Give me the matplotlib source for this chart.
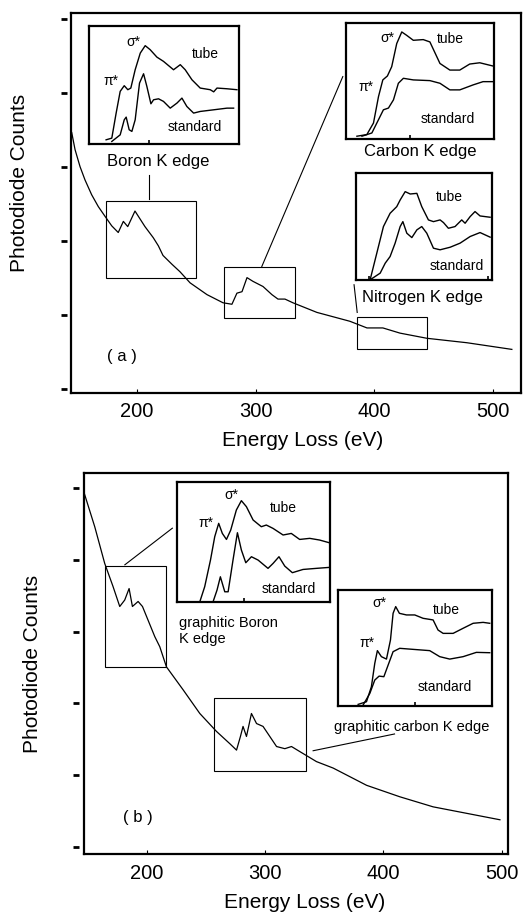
import numpy as np
import matplotlib.pyplot as plt
from matplotlib.patches import Rectangle

plt.rcParams['font.family'] = ['Liberation Sans', 'DejaVu Sans']

# ---------------- panel (a): full loss spectrum ----------------
a_energy = [145.0, 147.8, 152.0, 156.2, 161.8, 167.4, 173.0, 178.7, 184.2, 188.5,
            192.2, 198.3, 206.7, 213.7, 218.0,
            221.9, 229.5, 236.2, 244.7, 259.0, 272.5, 280.0, 284.2, 288.5, 292.7,
            297.7, 306.2, 313.7, 318.8, 324.7, 331.4, 351.6, 379.4, 393.8, 407.2,
            421.6, 444.3, 478.0, 515.9]
a_counts = [3.46, 3.23, 3.00, 2.82, 2.62, 2.46, 2.33, 2.20, 2.11, 2.26,
            2.19, 2.40, 2.19, 2.04, 1.93,
            1.80, 1.68, 1.58, 1.43, 1.27, 1.16, 1.14, 1.29, 1.31, 1.50,
            1.45, 1.38, 1.27, 1.21, 1.21, 1.16, 1.03, 0.91, 0.82, 0.82,
            0.75, 0.68, 0.62, 0.53]
# boxes around the edges: (E start, E end, counts low, counts high)
a_boxes = [(173.9, 249.7, 1.50, 2.53),
           (273.3, 333.1, 0.95, 1.64),
           (385.3, 444.3, 0.54, 0.97)]

# ---------------- panel (b): full loss spectrum ----------------
b_energy = [147.0, 156.3, 164.7, 171.7, 177.4, 181.6, 185.3, 188.1, 192.9, 196.6,
            201.3, 207.0, 211.2, 216.8, 230.9, 245.0, 259.1, 270.3, 276.0, 279.3,
            281.5, 284.4, 288.6, 292.9, 298.4, 304.1, 309.8, 316.8, 322.4, 329.4,
            343.5, 357.6, 385.8, 413.9, 442.0, 470.2, 498.4]
b_counts = [4.95, 4.46, 3.95, 3.63, 3.35, 3.44, 3.60, 3.35, 3.42, 3.35,
            3.16, 2.93, 2.79, 2.51, 2.19, 1.86, 1.61, 1.44, 1.35, 1.54,
            1.68, 1.54, 1.86, 1.72, 1.68, 1.54, 1.40, 1.37, 1.40, 1.33,
            1.19, 1.10, 0.86, 0.70, 0.56, 0.47, 0.38]
b_boxes = [(164.7, 216.8, 2.51, 3.91),
           (257.1, 334.5, 1.06, 2.08)]

count_ticks = [0, 1, 2, 3, 4, 5]
energy_ticks = [200, 300, 400, 500]

# ---------------- inset edges (normalised to inset frame) ----------------
# (a) boron
aB_tube_x = [0.111, 0.149, 0.178, 0.205, 0.232, 0.256, 0.276, 0.305, 0.339, 0.372, 0.405,
             0.450, 0.494, 0.561, 0.606, 0.639, 0.684, 0.739, 0.806, 0.829, 0.851, 0.918, 0.984]
aB_tube_y = [0.034, 0.048, 0.260, 0.444, 0.492, 0.458, 0.472, 0.627, 0.768, 0.831, 0.797,
             0.734, 0.698, 0.627, 0.670, 0.627, 0.542, 0.472, 0.458, 0.440, 0.472, 0.466, 0.458]
aB_std_x = [0.149, 0.205, 0.232, 0.245, 0.265, 0.283, 0.305, 0.334, 0.361, 0.383, 0.410,
            0.428, 0.461, 0.494, 0.539, 0.584, 0.617, 0.650, 0.695, 0.739, 0.829, 0.918, 0.962]
aB_std_y = [0.020, 0.076, 0.203, 0.226, 0.119, 0.105, 0.203, 0.514, 0.593, 0.486, 0.339,
            0.373, 0.381, 0.359, 0.302, 0.345, 0.387, 0.316, 0.260, 0.274, 0.288, 0.302, 0.302]
# (a) carbon
aC_tube_x = [0.074, 0.141, 0.186, 0.220, 0.249, 0.280, 0.309, 0.343, 0.377, 0.410, 0.455,
             0.522, 0.567, 0.635, 0.702, 0.769, 0.836, 0.904, 0.993]
aC_tube_y = [0.023, 0.037, 0.137, 0.366, 0.509, 0.543, 0.623, 0.823, 0.923, 0.894, 0.851,
             0.857, 0.837, 0.651, 0.594, 0.594, 0.646, 0.657, 0.629]
aC_std_x = [0.108, 0.175, 0.220, 0.253, 0.287, 0.321, 0.354, 0.388, 0.455, 0.567, 0.635,
            0.702, 0.769, 0.859, 0.926, 0.993]
aC_std_y = [0.023, 0.051, 0.166, 0.251, 0.266, 0.337, 0.480, 0.523, 0.509, 0.503, 0.480,
            0.423, 0.423, 0.466, 0.494, 0.494]
# (a) nitrogen
aN_tube_x = [0.105, 0.154, 0.203, 0.252, 0.301, 0.326, 0.363, 0.400, 0.449, 0.485, 0.534,
             0.571, 0.620, 0.645, 0.681, 0.730, 0.779, 0.804, 0.841, 0.877, 0.914, 0.988]
aN_tube_y = [0.000, 0.248, 0.497, 0.621, 0.683, 0.745, 0.823, 0.801, 0.807, 0.683, 0.559,
             0.543, 0.559, 0.534, 0.481, 0.497, 0.559, 0.528, 0.590, 0.637, 0.596, 0.584]
aN_std_x = [0.105, 0.179, 0.216, 0.252, 0.289, 0.326, 0.346, 0.375, 0.412, 0.449, 0.485,
            0.522, 0.571, 0.620, 0.694, 0.767, 0.841, 0.914, 0.988]
aN_std_y = [0.000, 0.062, 0.155, 0.217, 0.342, 0.497, 0.543, 0.435, 0.394, 0.466, 0.497,
            0.435, 0.295, 0.280, 0.304, 0.342, 0.404, 0.441, 0.398]
# (b) graphitic boron
bB_tube_x = [0.147, 0.179, 0.217, 0.245, 0.271, 0.295, 0.322, 0.350, 0.387, 0.420, 0.453,
             0.497, 0.551, 0.584, 0.628, 0.694, 0.748, 0.803, 0.869, 0.934, 0.996]
bB_tube_y = [0.000, 0.125, 0.347, 0.542, 0.653, 0.569, 0.519, 0.597, 0.764, 0.842, 0.792,
             0.681, 0.625, 0.639, 0.611, 0.556, 0.569, 0.519, 0.528, 0.514, 0.492]
bB_std_x = [0.234, 0.260, 0.282, 0.311, 0.333, 0.365, 0.394, 0.420, 0.449, 0.486, 0.530,
            0.595, 0.628, 0.667, 0.705, 0.755, 0.825, 0.912, 0.996]
bB_std_y = [0.000, 0.097, 0.208, 0.083, 0.083, 0.347, 0.575, 0.431, 0.325, 0.375, 0.347,
            0.278, 0.319, 0.375, 0.297, 0.242, 0.269, 0.278, 0.286]
# (b) graphitic carbon
bC_tube_x = [0.130, 0.184, 0.216, 0.238, 0.255, 0.281, 0.314, 0.340, 0.357, 0.374, 0.398,
             0.444, 0.498, 0.552, 0.617, 0.649, 0.682, 0.747, 0.812, 0.877, 0.942, 0.985]
bC_tube_y = [0.012, 0.035, 0.164, 0.366, 0.476, 0.424, 0.403, 0.568, 0.798, 0.856, 0.798,
             0.784, 0.784, 0.755, 0.741, 0.654, 0.625, 0.625, 0.669, 0.712, 0.720, 0.712]
bC_std_x = [0.162, 0.206, 0.238, 0.266, 0.297, 0.325, 0.357, 0.400, 0.487, 0.595, 0.660,
            0.725, 0.812, 0.898, 0.985]
bC_std_y = [0.006, 0.107, 0.222, 0.256, 0.251, 0.352, 0.467, 0.496, 0.487, 0.476, 0.424,
            0.403, 0.424, 0.461, 0.458]


def draw_inset(ax, rect, tube, std, ticks, labels):
    """ small spectrum box inside a panel, rect in axes fraction """
    ins = ax.inset_axes(rect)
    ins.plot(tube[0], tube[1], color='k', lw=1.0)
    ins.plot(std[0], std[1], color='k', lw=1.0)
    ins.set_xlim(0, 1)
    ins.set_ylim(0, 1)
    ins.set_xticks(ticks)
    ins.set_yticks([])
    ins.tick_params(axis='x', direction='in', length=3, width=1.2, labelbottom=False)
    for s in ins.spines.values():
        s.set_linewidth(1.6)
    for (x, y, txt) in labels:
        ins.text(x, y, txt, fontsize=10, ha='center', va='center', transform=ins.transAxes)
    return ins


def draw_panel(ax, energy, counts, boxes, xlim, ylim, tick_x):
    ax.plot(energy, counts, color='k', lw=0.9)
    for (e0, e1, c0, c1) in boxes:
        ax.add_patch(Rectangle((e0, c0), e1 - e0, c1 - c0, fill=False, ec='k', lw=0.8))
    ax.set_xlim(*xlim)
    ax.set_ylim(*ylim)
    ax.set_xticks(energy_ticks)
    ax.set_yticks([])
    ax.tick_params(axis='x', direction='in', length=3, labelsize=14.5, pad=7)
    for s in ax.spines.values():
        s.set_linewidth(1.6)
    # y ticks are little dashes standing off the axis
    ax.plot([tick_x] * len(count_ticks), count_ticks, ls='none', marker='_', ms=4,
            mew=2, color='k', transform=ax.get_yaxis_transform(), clip_on=False)
    ax.set_xlabel("Energy Loss (eV)", fontsize=15)
    ax.set_ylabel("Photodiode Counts", fontsize=15)
    ax.xaxis.label.set_va('center')
    ax.yaxis.label.set_va('center')


fig = plt.figure(figsize=(5.3, 9.13), dpi=100)

# ---------------- (a) ----------------
ax1 = fig.add_axes([0.134, 0.570, 0.849, 0.416])
draw_panel(ax1, a_energy, a_counts, a_boxes, (144.4, 523.6), (-0.054, 5.08), -0.015)
ax1.xaxis.set_label_coords(0.515, -0.125)
ax1.yaxis.set_label_coords(-0.115, 0.553)

draw_inset(ax1, [0.041, 0.655, 0.333, 0.311], (aB_tube_x, aB_tube_y), (aB_std_x, aB_std_y),
           [0.40], [(0.294, 0.86, "σ*"), (0.143, 0.53, "π*"),
                    (0.773, 0.76, "tube"), (0.706, 0.14, "standard")])
draw_inset(ax1, [0.611, 0.668, 0.329, 0.305], (aC_tube_x, aC_tube_y), (aC_std_x, aC_std_y),
           [0.43], [(0.280, 0.875, "σ*"), (0.135, 0.45, "π*"),
                    (0.702, 0.86, "tube"), (0.691, 0.17, "standard")])
draw_inset(ax1, [0.633, 0.297, 0.302, 0.282], (aN_tube_x, aN_tube_y), (aN_std_x, aN_std_y),
           [0.10, 0.97], [(0.689, 0.77, "tube"), (0.743, 0.125, "standard")])

ax1.text(0.193, 0.608, "Boron K edge", fontsize=12, ha='center', va='center', transform=ax1.transAxes)
ax1.text(0.776, 0.634, "Carbon K edge", fontsize=12, ha='center', va='center', transform=ax1.transAxes)
ax1.text(0.780, 0.250, "Nitrogen K edge", fontsize=12, ha='center', va='center', transform=ax1.transAxes)
ax1.text(0.080, 0.095, "( a )", fontsize=12, ha='left', va='center', transform=ax1.transAxes)
ax1.plot([0.173, 0.173], [0.511, 0.574], color='k', lw=0.8, transform=ax1.transAxes)
ax1.plot([0.424, 0.604], [0.332, 0.832], color='k', lw=0.8, transform=ax1.transAxes)
ax1.plot([0.636, 0.629], [0.211, 0.284], color='k', lw=0.8, transform=ax1.transAxes)

# ---------------- (b) ----------------
ax2 = fig.add_axes([0.158, 0.0646, 0.800, 0.4174])
draw_panel(ax2, b_energy, b_counts, b_boxes, (147, 505), (-0.097, 5.21), -0.018)
ax2.xaxis.set_label_coords(0.52, -0.128)
ax2.yaxis.set_label_coords(-0.12, 0.5)

draw_inset(ax2, [0.221, 0.662, 0.359, 0.315], (bB_tube_x, bB_tube_y), (bB_std_x, bB_std_y),
           [0.44], [(0.354, 0.89, "σ*"), (0.190, 0.66, "π*"),
                    (0.694, 0.78, "tube"), (0.733, 0.11, "standard")])
draw_inset(ax2, [0.600, 0.389, 0.363, 0.304], (bC_tube_x, bC_tube_y), (bC_std_x, bC_std_y),
           [0.50], [(0.271, 0.885, "σ*"), (0.184, 0.545, "π*"),
                    (0.703, 0.83, "tube"), (0.693, 0.165, "standard")])

ax2.text(0.224, 0.606, "graphitic Boron", fontsize=10.5, ha='left', va='center', transform=ax2.transAxes)
ax2.text(0.224, 0.564, "K edge", fontsize=10.5, ha='left', va='center', transform=ax2.transAxes)
ax2.text(0.774, 0.333, "graphitic carbon K edge", fontsize=10.5, ha='center', va='center',
         transform=ax2.transAxes)
ax2.text(0.092, 0.097, "( b )", fontsize=12, ha='left', va='center', transform=ax2.transAxes)
ax2.plot([0.097, 0.209], [0.759, 0.855], color='k', lw=0.8, transform=ax2.transAxes)
ax2.plot([0.541, 0.733], [0.271, 0.315], color='k', lw=0.8, transform=ax2.transAxes)

fig.savefig("out.png", dpi=100)
